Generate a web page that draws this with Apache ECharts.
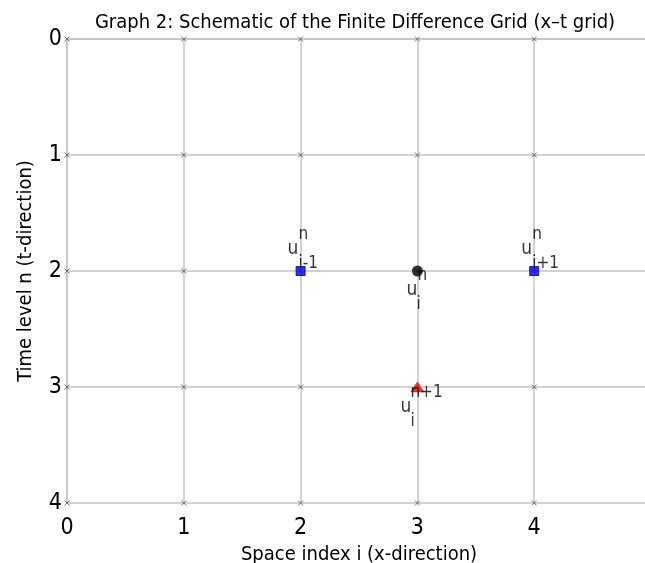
<!DOCTYPE html>
<html>
<head>
<meta charset="utf-8">
<script src="https://cdn.jsdelivr.net/npm/echarts@6/dist/echarts.min.js"></script>
<style>
  html, body { margin: 0; padding: 0; background: #fff; }
  #chart { width: 645px; height: 563px; }
</style>
</head>
<body>
<div id="chart"></div>
<script>
// Finite difference stencil on an x–t grid
const spaceIdx = [0, 1, 2, 3, 4];          // i
const timeLvl = [0, 1, 2, 3, 4];           // n
const neighbourNodes = [[2, 2], [4, 2]];   // u_{i-1}^n, u_{i+1}^n
const neighbourSubs = ['i-1', 'i+1'];
const centreNode = [[3, 2]];               // u_i^n
const nextNode = [[3, 3]];                 // u_i^{n+1}

const FONT = '"Liberation Sans Narrow", "DejaVu Sans Condensed", "Roboto Condensed", sans-serif';
const TXT = '#000';

const gridNodes = [];
spaceIdx.forEach(i => timeLvl.forEach(n => gridNodes.push([i, n])));

// three-line stencil label: superscript / base / subscript
function stencilRich(supPad, subPad) {
  return {
    sup: { fontFamily: FONT, fontSize: 17, color: TXT, lineHeight: 14, padding: [0, 0, 0, supPad] },
    base: { fontFamily: FONT, fontSize: 19, color: TXT, lineHeight: 14 },
    sub: { fontFamily: FONT, fontSize: 17, color: TXT, lineHeight: 16, padding: [0, 0, 0, subPad] }
  };
}

const chart = echarts.init(document.getElementById('chart'), null, { renderer: 'canvas' });

chart.setOption({
  backgroundColor: '#ffffff',
  animation: false,
  title: {
    text: 'Graph 2: Schematic of the Finite Difference Grid (x\u2013t grid)',
    left: 350,
    top: 8,
    textAlign: 'center',
    textStyle: { fontFamily: FONT, fontSize: 20, fontWeight: 'normal', color: TXT }
  },
  grid: { left: 67, top: 39, width: 584, height: 464, containLabel: false, outerBoundsMode: 'none' },
  xAxis: {
    type: 'value',
    min: 0, max: 5, interval: 1,
    name: 'Space index i (x-direction)',
    nameLocation: 'middle',
    nameGap: 37,
    nameTextStyle: { fontFamily: FONT, fontSize: 20, color: TXT },
    axisLine: { show: true, lineStyle: { color: '#c4c4c4', width: 1.5 } },
    axisTick: { show: false },
    axisLabel: { fontFamily: FONT, fontSize: 23, color: TXT, margin: 14 },
    splitLine: { show: true, lineStyle: { color: '#c4c4c4', width: 1.5 } }
  },
  yAxis: {
    type: 'value',
    inverse: true,
    min: 0, max: 4, interval: 1,
    name: 'Time level n (t-direction)',
    nameLocation: 'middle',
    nameGap: 31,
    nameRotate: 90,
    nameTextStyle: { fontFamily: FONT, fontSize: 20, color: TXT },
    axisLine: { show: true, lineStyle: { color: '#c4c4c4', width: 1.5 } },
    axisTick: { show: false },
    axisLabel: { fontFamily: FONT, fontSize: 23, color: TXT, margin: 5 },
    splitLine: { show: true, lineStyle: { color: '#c4c4c4', width: 1.5 } }
  },
  series: [
    {
      name: 'nodes',
      type: 'scatter',
      data: gridNodes,
      symbol: 'path://M0,0L10,10M10,0L0,10',
      symbolSize: 5,
      itemStyle: { color: 'none', borderColor: '#555', borderWidth: 1 },
      z: 3
    },
    {
      name: 'neighbours',
      type: 'scatter',
      data: neighbourNodes.map((p, k) => ({ value: p, sub: neighbourSubs[k] })),
      symbol: 'rect',
      symbolSize: 9,
      itemStyle: { color: '#0000ff', borderColor: '#000060', borderWidth: 1 },
      label: {
        show: true,
        position: ['50%', '50%'],
        align: 'left',
        verticalAlign: 'top',
        offset: [-13, -43],
        formatter: p => '{sup|n}\n{base|u}\n{sub|' + p.data.sub + '}',
        rich: stencilRich(11, 11)
      },
      z: 5
    },
    {
      name: 'centre',
      type: 'scatter',
      data: centreNode,
      symbol: 'circle',
      symbolSize: 11,
      itemStyle: { color: '#000000' },
      label: {
        show: true,
        position: ['50%', '50%'],
        align: 'left',
        verticalAlign: 'top',
        offset: [-11, -2],
        formatter: '{sup|n}\n{base|u}\n{sub|i}',
        rich: stencilRich(11, 10)
      },
      z: 5
    },
    {
      name: 'next',
      type: 'scatter',
      data: nextNode,
      symbol: 'triangle',
      symbolSize: [13, 10],
      itemStyle: { color: '#ff0000', borderColor: '#8b0000', borderWidth: 0.5 },
      label: {
        show: true,
        position: ['50%', '50%'],
        align: 'left',
        verticalAlign: 'top',
        offset: [-17, -1],
        formatter: '{sup|n+1}\n{base|u}\n{sub|i}',
        rich: stencilRich(10, 10)
      },
      z: 5
    }
  ]
});
</script>
</body>
</html>
